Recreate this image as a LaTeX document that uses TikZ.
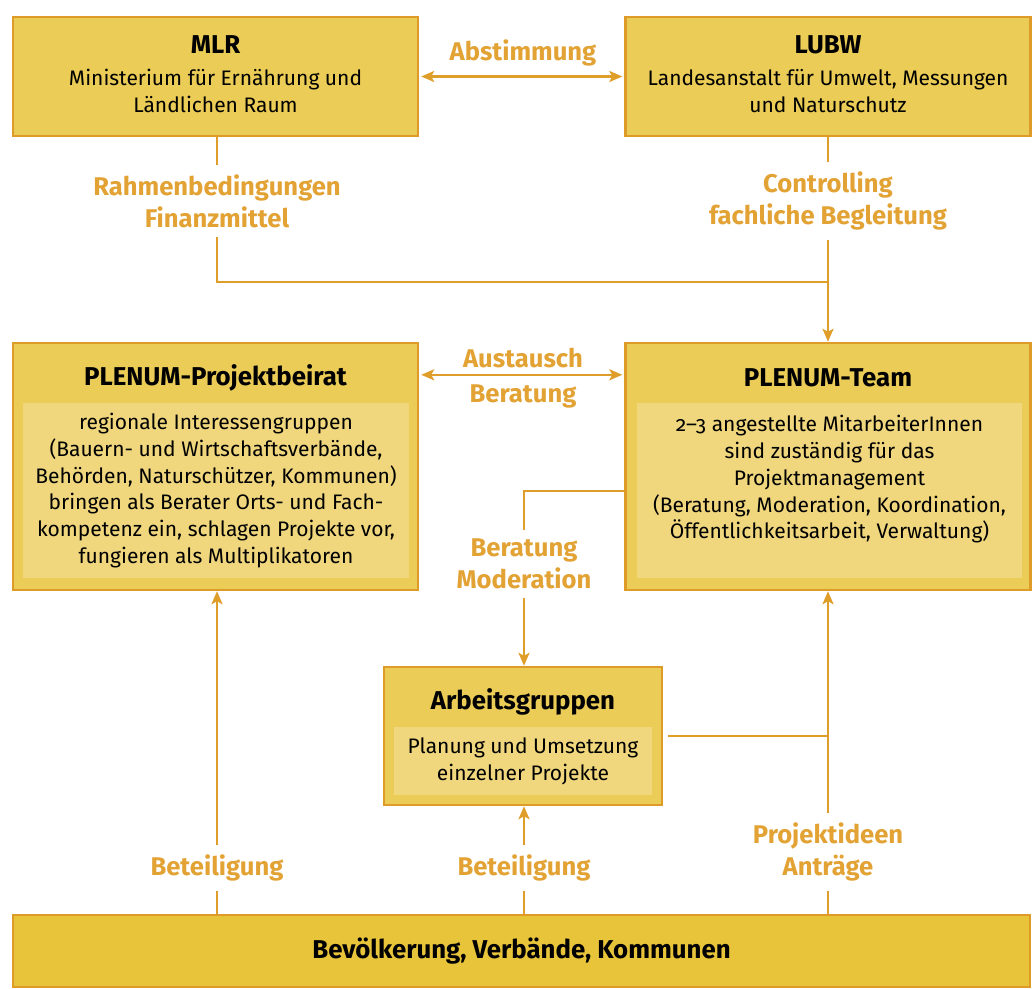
\documentclass[tikz,border=0pt]{standalone}
\usepackage{fontspec}
\setmainfont{Fira Sans}[Numbers=OldStyle]
\usetikzlibrary{arrows.meta}

\definecolor{linie}{RGB}{223,158,42}
\definecolor{rahmen}{RGB}{222,155,40}
\definecolor{feld}{RGB}{234,204,86}
\definecolor{innen}{RGB}{240,215,126}
\definecolor{basis}{RGB}{232,196,58}
\definecolor{schrift}{RGB}{226,162,52}

\begin{document}
\begin{tikzpicture}[x=0.5pt,y=-0.5pt,
  box/.style={draw=rahmen, line width=1.2pt, fill=feld, inner sep=0pt},
  innen/.style={fill=innen, inner sep=0pt, align=center, font=\fontsize{10.5}{13.4}\selectfont},
  titel/.style={font=\fontsize{12.9}{15}\selectfont\bfseries, inner sep=0pt},
  txt/.style={align=center, font=\fontsize{10.5}{13.4}\selectfont, inner sep=0pt},
  lbl/.style={text=schrift, align=center, font=\fontsize{12.8}{16}\selectfont\bfseries, inner sep=4.5pt},
  linie/.style={draw=linie, line width=1.2pt},
  pfeil/.style={linie, -{Stealth[length=6.5pt,width=5.5pt,inset=1.5pt]}},
  doppel/.style={linie, {Stealth[length=6.5pt,width=5.5pt,inset=1.5pt]}-{Stealth[length=6.5pt,width=5.5pt,inset=1.5pt]}, shorten <=1pt, shorten >=1pt}]
\useasboundingbox (0,0) rectangle (1032,989);

% obere Reihe
\node[box, minimum width=202.5pt, minimum height=59.5pt] (mlr) at (215.5,76.5) {};
\node[titel] (mlr-t) at (215.5,45) {MLR};
\node[txt] (mlr-x) at (215.5,91) {Ministerium für Ernährung und\\Ländlichen Raum};

\node[box, minimum width=202.5pt, minimum height=59.5pt] (lubw) at (828,76.5) {};
\node[titel] (lubw-t) at (828,45) {LUBW};
\node[txt] (lubw-x) at (828,91) {Landesanstalt für Umwelt, Messungen\\und Naturschutz};

\draw[doppel] (mlr.east) -- (lubw.west);
\node[lbl] (abst) at (523,53) {Abstimmung};

\node[lbl] (rbed) at (217,201) {Rahmenbedingungen\\Finanzmittel};
\node[lbl] (ctrl) at (828,201) {Controlling\\fachliche Begleitung};
\coordinate (knick) at (828,282);

% mittlere Reihe
\node[box, minimum width=202.5pt, minimum height=123.5pt] (beirat) at (215.5,466.5) {};
\node[titel] (beirat-t) at (215.5,378) {PLENUM-Projektbeirat};
\node[innen, minimum width=193pt, minimum height=87.5pt] (beirat-i) at (216,490.5)
  {regionale Interessengruppen\\(Bauern- und Wirtschaftsverbände,\\Behörden, Naturschützer, Kommunen)\\bringen als Berater Orts- und Fach-\\kompetenz ein, schlagen Projekte vor,\\fungieren als Multiplikatoren};

\node[box, minimum width=202.5pt, minimum height=123.5pt] (team) at (828,466.5) {};
\node[titel] (team-t) at (828,378) {PLENUM-Team};
\node[innen, minimum width=192.5pt, minimum height=87.5pt] (team-i) at (829.5,490.5)
  {2–3 angestellte MitarbeiterInnen\\sind zuständig für das\\Projektmanagement\\(Beratung, Moderation, Koordination,\\Öffentlichkeitsarbeit, Verwaltung)\\\mbox{}};

\draw[linie] (mlr.south -| rbed.north) -- (rbed.north);
\draw[linie] (rbed.south) |- (knick);
\draw[linie] (lubw.south -| ctrl.north) -- (ctrl.north);
\draw[pfeil] (ctrl.south) -- (team.north -| ctrl.south);

\draw[doppel] ([yshift=-16.5pt]beirat.north east) -- ([yshift=-16.5pt]team.north west);
\node[lbl] (aust) at (523,358) {Austausch};
\node[lbl] (berat) at (523,396) {Beratung};

% Arbeitsgruppen
\node[box, minimum width=139pt, minimum height=69pt] (ag) at (523,736) {};
\node[titel] (ag-t) at (523,702) {Arbeitsgruppen};
\node[innen, minimum width=129pt, minimum height=34pt] (ag-i) at (523,761)
  {Planung und Umsetzung\\einzelner Projekte};

\node[lbl] (mod) at (524,564) {Beratung\\Moderation};
\draw[linie] ([yshift=-12.25pt]team.west) -| (mod.north);
\draw[pfeil] (mod.south) -- (ag.north -| mod.south);

% untere Reihe
\node[box, fill=basis, minimum width=508.5pt, minimum height=36pt,
  font=\fontsize{12.9}{15}\selectfont\bfseries] (bev) at (521.5,951) {Bevölkerung, Verbände, Kommunen};

\node[lbl] (bet1) at (217,868) {Beteiligung};
\node[lbl] (bet2) at (524,868) {Beteiligung};
\node[lbl] (proj) at (828,852) {Projektideen\\Anträge};

\draw[linie] (bev.north -| bet1) -- (bet1.south);
\draw[pfeil] (bet1.north) -- (beirat.south -| bet1.north);
\draw[linie] (bev.north -| bet2) -- (bet2.south);
\draw[pfeil] (bet2.north) -- (ag.south -| bet2.north);
\draw[linie] (bev.north -| proj) -- (proj.south);
\draw[pfeil] (proj.north) -- (team.south -| proj.north);
\draw[linie] ([xshift=2.5pt]ag.east) -- (ag.east -| proj.north);
\end{tikzpicture}
\end{document}
